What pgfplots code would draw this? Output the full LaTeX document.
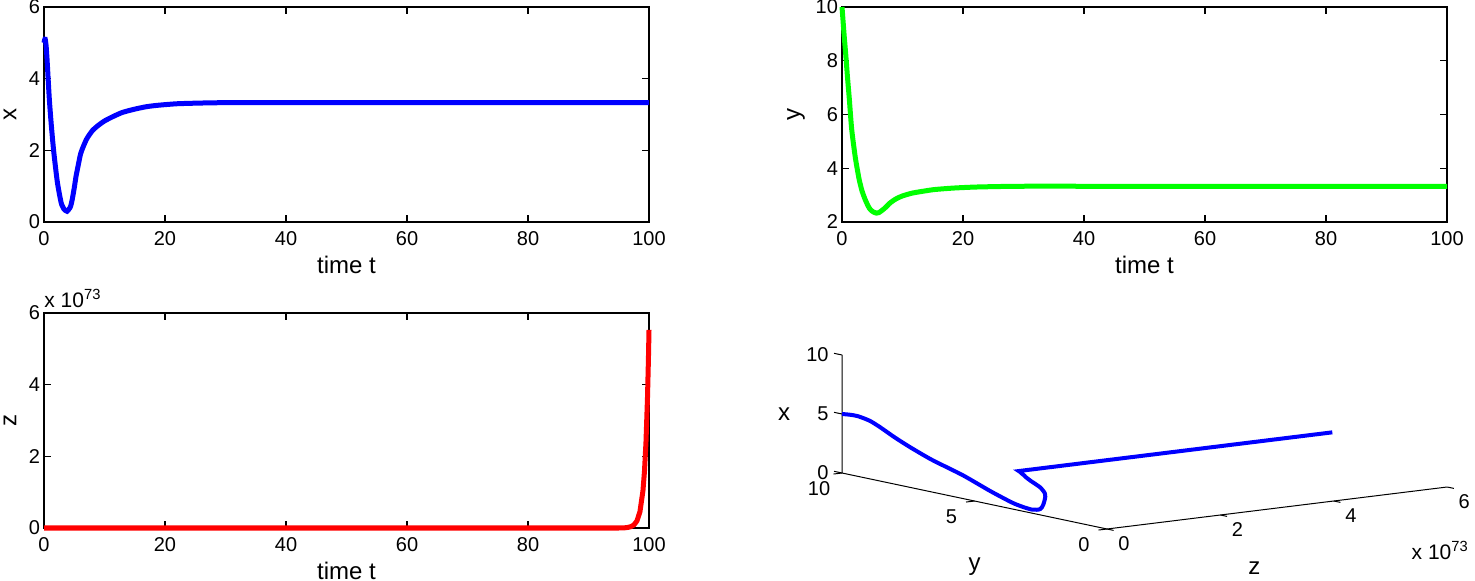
\documentclass[border=0pt]{standalone}
\usepackage{fontspec}
\setmainfont{Liberation Sans}
\usepackage{pgfplots}
\usepackage{pgfplotstable}
\pgfplotsset{compat=1.18}
\definecolor{mgreen}{rgb}{0,1,0}
\newcommand{\tickfont}{\fontsize{10}{12}\selectfont}
\newcommand{\labfont}{\fontsize{12}{14}\selectfont}

\pgfplotstableread{
t xv yv zv
0 5.00 10.00 0
0.1 5.08 9.70 0
0.2 5.10 9.40 0
0.35 4.92 8.95 0
0.5 4.55 8.55 0
0.7 3.95 8.00 0
0.9 3.38 7.40 0
1.2 2.72 6.60 0
1.6 1.98 5.45 0
2.2 1.12 4.40 0
2.8 0.56 3.62 0
3.05 0.44 3.38 0
3.3 0.36 3.16 0
3.8 0.30 2.85 0
4.3 0.40 2.60 0
4.5 0.50 2.52 0
4.7 0.66 2.46 0
5.0 0.95 2.40 0
5.3 1.28 2.36 0
5.7 1.62 2.33 0
6.1 1.93 2.35 0
7.0 2.30 2.50 0
8.0 2.55 2.72 0
9.0 2.70 2.87 0
10 2.82 2.97 0
11.5 2.95 3.07 0
13 3.06 3.13 0
15 3.15 3.20 0
17 3.22 3.24 0
19 3.26 3.27 0
22 3.30 3.30 0
26 3.32 3.32 0
30 3.33 3.33 0
40 3.33 3.33 0
50 3.33 3.33 0
60 3.33 3.33 0
70 3.33 3.33 0
80 3.33 3.33 0
90 3.33 3.33 0
95 3.33 3.33 0
96 3.33 3.33 0.006
96.5 3.33 3.33 0.016
97 3.33 3.33 0.037
97.5 3.33 3.33 0.085
98 3.33 3.33 0.196
98.5 3.33 3.33 0.452
99 3.33 3.33 1.04
99.25 3.33 3.33 1.58
99.5 3.33 3.33 2.40
99.75 3.33 3.33 3.64
99.9 3.33 3.33 4.68
100 3.33 3.33 5.53
}\traj

\pgfplotsset{
  mat2d/.style={
    scale only axis, width=302.5pt, height=107.5pt,
    xmin=0, xmax=100, xtick={0,20,...,100},
    tick align=inside, tick pos=both, major tick length=3.5pt,
    axis line style={line width=0.6pt},
    every tick/.style={black, line width=0.6pt},
    clip=false,
    /pgf/number format/assume math mode=true,
    tick label style={font=\tickfont},
    xticklabel style={yshift=-1pt},
    yticklabel style={xshift=1.5pt},
    every axis x label/.style={at={(axis description cs:0.5,0)}, anchor=center, yshift=-21.5pt, font=\labfont},
    every axis y label/.style={at={(axis description cs:0,0.5)}, anchor=center, xshift=-17pt, rotate=90, font=\labfont},
  }
}

\begin{document}
\begin{tikzpicture}
\useasboundingbox (0,0) rectangle (737.5pt,-290.5pt);

% top left: x(t)
\begin{axis}[mat2d, at={(22pt,-111pt)}, anchor=south west,
  ymin=0, ymax=6, ytick={0,2,4,6}, xlabel={time t}, ylabel={x}]
\addplot[blue, line width=2.5pt, smooth, tension=0.4] table[x=t, y=xv]{\traj};
\end{axis}

% top right: y(t)
\begin{axis}[mat2d, at={(421pt,-111pt)}, anchor=south west,
  ymin=2, ymax=10, ytick={2,4,6,8,10}, xlabel={time t}, ylabel={y},
  every axis y label/.style={at={(axis description cs:0,0.5)}, anchor=center, xshift=-23pt, rotate=90, font=\labfont}]
\addplot[mgreen, line width=2.5pt, smooth, tension=0.4] table[x=t, y=yv]{\traj};
\end{axis}

% bottom left: z(t)
\begin{axis}[mat2d, at={(22pt,-264pt)}, anchor=south west,
  ymin=0, ymax=6, ytick={0,2,4,6}, xlabel={time t}, ylabel={z}]
\addplot[red, line width=2.5pt] table[x=t, y=zv]{\traj};
\node[anchor=south west, inner sep=0pt, font=\fontsize{10.5}{12}\selectfont, yshift=2.5pt] at (axis description cs:0,1) {x 10\textsuperscript{73}};
\end{axis}

% bottom right: 3D trajectory
\begin{axis}[at={(553.5pt,-264.5pt)}, anchor=origin,
  x={(28.35pt,3.5pt)}, y={(-13.25pt,2.8pt)}, z={(0pt,5.9pt)},
  xmin=0, xmax=6, ymin=0, ymax=10, zmin=0, zmax=10,
  hide axis, clip=false]
\draw[line width=0.5pt] (axis cs:0,10,10) -- (axis cs:0,10,0) -- (axis cs:0,0,0) -- (axis cs:6,0,0);
\pgfplotsinvokeforeach{0,5,10}{
  \draw[line width=0.5pt] (axis cs:0,10,#1) -- (axis cs:0,10.3,#1);
  \draw[line width=0.5pt] (axis cs:0,#1,0) -- (axis cs:-0.15,#1,0);
  \node[anchor=east, inner sep=0pt, xshift=-6.5pt, font=\tickfont] at (axis cs:0,10,#1) {#1};
  \node[xshift=-11.5pt, yshift=-8pt, font=\tickfont] at (axis cs:0,#1,0) {#1};
}
\pgfplotsinvokeforeach{0,2,4,6}{
  \draw[line width=0.5pt] (axis cs:#1,0,0) -- (axis cs:#1,-0.25,0);
  \node[xshift=8.5pt, yshift=-7.5pt, font=\tickfont] at (axis cs:#1,0,0) {#1};
}
\node[xshift=-29pt, font=\labfont] at (axis cs:0,10,5) {x};
\node[yshift=-33pt, font=\labfont] at (axis cs:0,5,0) {y};
\node[yshift=-28.5pt, font=\labfont] at (axis cs:2.6,0,0) {z};
\node[xshift=-3.5pt, yshift=-31.5pt, font=\fontsize{10.5}{12}\selectfont] at (axis cs:6,0,0) {x 10\textsuperscript{73}};
\addplot3[blue, line width=2pt, smooth, tension=0.4] table[x=zv, y=yv, z=xv]{\traj};
\end{axis}
\end{tikzpicture}
\end{document}
